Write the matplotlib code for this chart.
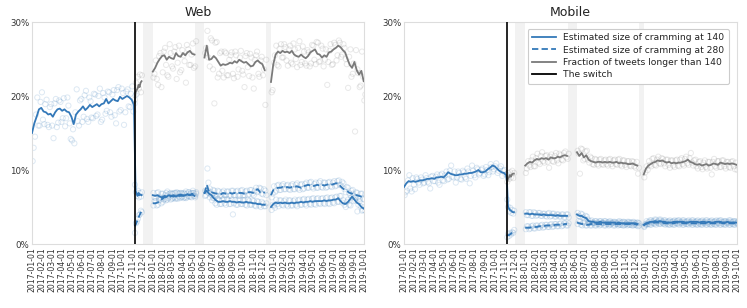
import numpy as np
import pandas as pd
import matplotlib
matplotlib.use("Agg")
import matplotlib.pyplot as plt
from matplotlib.lines import Line2D
from matplotlib.ticker import FuncFormatter

# ---------------- data (percent) ----------------
pre_start = "2017-01-01"   # weekly
p1_start = "2017-11-07"    # every 3 days
p2_start = "2018-01-01"    # weekly
p3_start = "2018-06-06"    # weekly
p4_start = "2018-12-24"    # weekly
switch_date = "2017-11-07"
gaps = [("2017-12-01", "2018-01-01"), ("2018-05-09", "2018-06-06"), ("2018-12-09", "2018-12-24")]
month_ticks = pd.date_range("2017-01-01", "2019-10-01", freq="MS")

# ---- Web: smoothed lines ----
web_pre_140 = [15.0, 16.3, 17.2, 18.2, 18.4, 17.9, 17.8, 17.5, 17.6, 17.2, 17.8, 18.2, 18.3, 18.0, 18.2,
               17.9, 17.8, 17.2, 16.2, 17.5, 17.9, 18.2, 18.6, 18.1, 18.4, 18.8, 18.5, 18.7, 18.9, 18.6,
               18.9, 19.0, 19.6, 19.0, 19.3, 19.6, 19.4, 19.3, 19.9, 19.6, 19.8, 20.0, 19.8, 19.5, 18.8]
web_p1_140 = [14.0, 7.2, 6.8, 6.5, 6.9, 6.6, 6.7, 6.6]
web_p1_280 = [2.4, 2.6, 2.9, 3.3, 3.6, 3.9, 4.2, 4.4]
web_p1_gray = [19.0, 20.5, 20.8, 21.0, 21.5, 21.2, 21.8, 22.0]
web_p2_140 = [6.6, 6.5, 6.6, 6.4, 6.3, 6.5, 6.4, 6.6, 6.5, 6.6, 6.4, 6.6, 6.7, 6.5, 6.6, 6.7, 6.6, 6.7, 6.5]
web_p2_280 = [5.5, 5.5, 5.6, 5.8, 6.1, 6.3, 6.4, 6.3, 6.5, 6.4, 6.6, 6.5, 6.5, 6.6, 6.5, 6.7, 6.6, 6.8, 6.6]
web_p2_gray = [23.3, 23.8, 24.5, 25.0, 25.4, 25.5, 24.9, 25.3, 25.1, 25.0, 25.8, 25.4, 25.3, 25.8, 25.5,
               25.9, 26.1, 25.7, 25.6]
web_p3_140 = [6.9, 7.2, 6.8, 6.6, 6.2, 5.9, 5.7, 5.7, 5.8, 5.7, 5.7, 5.8, 5.7, 5.7, 5.6, 5.7, 5.6, 5.6,
              5.7, 5.6, 5.6, 5.5, 5.5, 5.4, 5.4, 5.3, 5.3]
web_p3_280 = [6.8, 8.0, 7.0, 7.0, 6.9, 6.8, 6.8, 6.7, 6.9, 6.8, 6.8, 6.9, 6.8, 6.9, 6.8, 6.9, 6.9, 6.8,
              6.9, 7.0, 7.0, 6.9, 7.3, 7.4, 7.0, 7.1, 6.9]
web_p3_gray = [25.2, 26.8, 24.9, 25.0, 25.4, 25.1, 24.6, 24.1, 24.3, 24.2, 24.3, 24.5, 24.4, 24.7, 24.5,
               24.9, 24.7, 24.5, 24.6, 24.3, 24.0, 24.1, 24.6, 24.8, 24.5, 24.3, 23.5]
web_p4_140 = [5.0, 5.4, 5.6, 5.5, 5.6, 5.5, 5.6, 5.5, 5.5, 5.6, 5.5, 5.6, 5.6, 5.7, 5.6, 5.7, 5.7, 5.8,
              5.7, 5.8, 5.8, 5.8, 5.8, 5.9, 5.8, 5.9, 5.9, 6.0, 6.0, 6.2, 5.8, 5.5, 5.4, 5.6, 6.0, 6.4,
              6.0, 5.6, 5.4, 5.0, 4.8]
web_p4_280 = [6.6, 7.3, 7.5, 7.6, 7.6, 7.7, 7.6, 7.7, 7.6, 7.7, 7.7, 7.8, 7.7, 7.6, 7.8, 7.9, 8.0, 7.9,
              7.8, 7.9, 8.0, 7.9, 8.0, 7.9, 8.0, 8.1, 8.0, 8.1, 8.2, 8.2, 7.8, 7.5, 7.3, 7.1, 6.9, 6.8,
              6.6, 6.6, 6.5, 6.4, 6.4]
web_p4_gray = [21.9, 24.3, 25.6, 26.0, 25.8, 26.1, 25.9, 26.0, 25.8, 26.1, 25.6, 25.4, 25.3, 25.6, 25.3,
               25.1, 25.4, 25.9, 26.1, 26.3, 25.7, 25.6, 25.2, 25.5, 25.3, 25.9, 26.0, 26.3, 26.5, 26.8,
               26.6, 26.2, 25.9, 25.0, 24.2, 23.8, 24.6, 23.5, 22.9, 23.4, 22.0]

# ---- Web: daily observations (two samples per week) ----
web_pre_140_a = [11.2, 14.5, 19.8, 16.0, 20.5, 16.2, 19.5, 15.8, 18.9, 14.3, 19.6, 16.4, 19.2, 17.0, 15.9,
                 19.8, 16.3, 14.0, 13.6, 20.9, 16.0, 19.6, 17.2, 20.7, 16.5, 19.3, 17.0, 20.2, 17.5, 21.0,
                 16.8, 19.8, 18.0, 20.5, 17.2, 20.8, 16.3, 21.2, 18.1, 20.4, 17.8, 20.9, 18.5, 21.3, 19.0]
web_pre_140_b = [13.0, 17.5, 16.0, 19.2, 16.8, 18.9, 16.1, 18.5, 16.0, 19.0, 15.8, 19.4, 16.5, 19.7, 17.0,
                 18.7, 14.2, 15.5, 17.8, 16.6, 19.4, 16.5, 20.1, 16.9, 19.8, 17.1, 20.3, 17.3, 20.0, 16.5,
                 20.4, 17.6, 20.6, 17.8, 20.2, 17.4, 20.8, 17.9, 21.0, 16.1, 20.6, 18.6, 20.3, 17.9, 20.1]
web_p1_140_pts = [8.0, 7.0, 6.5, 7.2, 6.3, 6.9, 6.4, 7.0]
web_p1_280_pts = [1.5, 2.8, 3.0, 3.4, 3.9, 4.0, 4.5, 4.3]
web_p1_gray_pts = [19.5, 21.8, 20.3, 22.6, 21.0, 22.9, 20.5, 22.8]
web_p2_140_a = [6.9, 6.2, 7.0, 6.3, 6.8, 6.1, 7.1, 6.4, 6.8, 6.3, 7.0, 6.4, 6.9, 6.2, 7.1, 6.5, 6.8, 7.2, 6.3]
web_p2_140_b = [6.3, 6.9, 6.2, 6.8, 6.0, 6.9, 6.2, 6.9, 6.2, 6.9, 6.1, 6.9, 6.4, 6.8, 6.3, 7.0, 6.3, 6.9, 6.8]
web_p2_280_a = [5.2, 5.8, 5.3, 6.0, 5.7, 6.6, 6.0, 6.8, 6.1, 6.9, 6.2, 6.8, 6.3, 6.9, 6.2, 7.0, 6.4, 6.9, 6.5]
web_p2_280_b = [5.8, 5.2, 5.9, 5.5, 6.3, 5.9, 6.7, 6.0, 6.8, 6.1, 6.9, 6.2, 6.8, 6.3, 6.8, 6.4, 6.9, 6.5, 7.0]
web_p2_gray_a = [22.5, 24.8, 21.5, 25.8, 23.2, 26.5, 22.8, 27.0, 24.0, 26.0, 22.3, 26.8, 23.5, 25.5, 21.8,
                 26.3, 24.2, 27.1, 24.0]
web_p2_gray_b = [23.0, 22.3, 25.4, 21.2, 26.0, 24.2, 22.6, 25.8, 23.7, 26.6, 24.5, 23.2, 26.2, 24.7, 26.9,
                 24.2, 25.6, 23.8, 27.4]
web_p3_140_a = [7.2, 10.2, 6.3, 5.9, 6.2, 5.3, 6.0, 5.4, 6.1, 5.3, 6.0, 5.4, 4.0, 5.9, 5.3, 6.0, 5.4,
                5.9, 5.2, 5.8, 5.3, 5.8, 5.1, 5.7, 5.0, 5.5, 5.1]
web_p3_140_b = [6.6, 6.9, 7.0, 6.2, 5.5, 6.1, 5.4, 6.0, 5.5, 6.1, 5.4, 6.0, 5.5, 5.3, 6.0, 5.4, 5.9, 5.3,
                6.0, 5.3, 5.9, 5.2, 5.8, 5.2, 5.7, 5.1, 5.5]
web_p3_280_a = [6.5, 7.3, 7.5, 6.6, 7.2, 6.5, 7.1, 6.5, 7.2, 6.6, 7.1, 6.5, 7.2, 6.6, 7.2, 6.5, 7.3,
                6.6, 7.2, 6.7, 7.3, 6.6, 7.6, 7.1, 7.5, 6.7, 7.2]
web_p3_280_b = [7.1, 8.3, 6.7, 7.3, 6.6, 7.2, 6.5, 7.0, 6.6, 7.1, 6.5, 7.2, 6.6, 7.1, 6.5, 7.2, 6.6, 7.1,
                6.6, 7.3, 6.8, 7.2, 7.0, 7.6, 6.8, 7.4, 6.6]
web_p3_gray_a = [25.8, 28.8, 24.0, 27.5, 19.0, 27.3, 23.0, 26.0, 22.5, 25.8, 22.8, 25.5, 23.0, 26.0,
                 22.6, 25.2, 23.4, 21.2, 25.8, 22.7, 25.2, 21.0, 25.5, 23.0, 24.8, 22.8, 18.8]
web_p3_gray_b = [26.5, 25.2, 27.8, 23.6, 27.2, 22.5, 25.8, 23.4, 26.0, 22.8, 24.9, 25.9, 22.4, 25.5, 23.6,
                 26.1, 22.9, 25.4, 23.9, 25.7, 22.5, 24.9, 26.0, 22.6, 25.3, 23.6, 24.9]
web_p4_140_a = [4.6, 5.2, 6.0, 5.1, 5.9, 5.2, 6.0, 5.1, 5.9, 5.2, 6.0, 5.1, 6.0, 5.3, 6.1, 5.2, 6.1,
                5.3, 6.2, 5.3, 6.2, 5.4, 6.2, 5.4, 6.3, 5.4, 6.3, 5.5, 6.4, 5.7, 6.5, 5.9, 5.0, 6.0,
                5.2, 6.8, 5.9, 4.4, 5.8, 4.5, 5.0]
web_p4_140_b = [5.3, 4.9, 5.4, 5.9, 5.3, 5.8, 5.3, 5.9, 5.2, 5.8, 5.3, 5.9, 5.3, 6.0, 5.4, 6.0, 5.4, 6.1,
                5.4, 6.1, 5.5, 6.1, 5.5, 6.2, 5.5, 6.2, 5.6, 6.3, 5.7, 6.5, 5.6, 5.3, 5.7, 5.3, 6.3, 5.8,
                6.2, 5.3, 5.1, 4.6, 4.5]
web_p4_280_a = [6.3, 7.8, 7.2, 8.0, 7.3, 8.1, 7.4, 8.0, 7.3, 8.1, 7.4, 8.2, 7.3, 8.1, 7.5, 8.3, 7.6,
                8.4, 7.5, 8.3, 7.6, 8.5, 7.6, 8.3, 7.7, 8.4, 7.7, 8.5, 7.9, 8.6, 7.9, 8.2, 7.0, 7.6,
                6.6, 7.3, 6.3, 6.9, 6.1, 6.8, 6.0]
web_p4_280_b = [6.8, 7.0, 7.9, 7.3, 7.9, 7.4, 7.9, 7.4, 7.9, 7.4, 8.0, 7.5, 8.0, 7.4, 8.1, 7.6, 8.3, 7.7,
                8.1, 7.6, 8.3, 7.7, 8.3, 7.6, 8.3, 7.8, 8.3, 7.8, 8.5, 8.0, 8.4, 7.4, 7.7, 6.9, 7.2, 6.5,
                7.0, 6.3, 6.8, 6.1, 6.7]
web_p4_gray_a = [20.5, 24.5, 26.8, 24.0, 27.0, 25.2, 26.6, 24.1, 26.8, 24.3, 26.3, 23.9, 27.4, 24.6,
                 26.0, 24.1, 25.9, 24.4, 26.8, 24.3, 27.2, 24.7, 26.4, 24.9, 21.5, 26.1, 24.2, 27.2,
                 24.8, 27.5, 25.3, 27.0, 25.0, 21.1, 26.3, 23.0, 15.2, 23.6, 21.2, 26.0, 19.4]
web_p4_gray_b = [20.8, 25.5, 24.2, 26.4, 25.2, 27.0, 24.8, 26.3, 24.5, 27.1, 25.0, 26.5, 24.2, 26.7, 24.4,
                 26.2, 24.0, 26.9, 24.9, 27.3, 24.6, 26.8, 24.0, 26.3, 24.6, 27.0, 24.3, 26.9, 25.5, 27.2,
                 25.6, 26.5, 24.3, 25.3, 22.6, 24.4, 26.2, 23.1, 21.4, 22.6, 20.2]

# ---- Mobile: smoothed lines ----
mob_pre_140 = [7.7, 8.2, 8.5, 8.4, 8.5, 8.4, 8.5, 8.6, 8.6, 8.7, 8.8, 8.8, 8.9, 8.8, 9.0, 9.0, 9.1, 9.0,
               9.3, 9.7, 9.5, 9.4, 9.3, 9.3, 9.4, 9.4, 9.5, 9.5, 9.6, 9.6, 9.7, 9.8, 10.0, 9.7, 9.7, 9.8,
               10.1, 10.3, 10.6, 10.5, 10.2, 9.9, 9.7, 9.6, 9.3]
mob_p1_140 = [8.5, 5.2, 4.8, 4.6, 4.5, 4.4, 4.3, 4.3]
mob_p1_280 = [1.1, 1.2, 1.2, 1.3, 1.4, 1.5, 1.6, 1.7]
mob_p1_gray = [8.2, 8.8, 9.0, 9.3, 9.1, 9.4, 9.5, 9.5]
mob_p2_140 = [4.1, 4.1, 4.0, 4.1, 4.0, 4.0, 4.0, 3.9, 4.0, 3.9, 3.9, 3.9, 3.9, 3.8, 3.9, 3.8, 3.8, 3.8, 3.8]
mob_p2_280 = [2.2, 2.2, 2.2, 2.3, 2.3, 2.3, 2.4, 2.4, 2.4, 2.5, 2.5, 2.5, 2.5, 2.6, 2.6, 2.6, 2.6, 2.7, 2.7]
mob_p2_gray = [10.6, 10.9, 11.1, 11.0, 11.3, 11.5, 11.4, 11.6, 11.5, 11.6, 11.4, 11.7, 11.6, 11.6, 11.8,
               11.7, 11.9, 12.0, 11.9]
mob_p3_140 = [4.0, 3.8, 3.8, 3.6, 3.5, 3.1, 3.0, 3.0, 2.9, 2.9, 3.0, 2.9, 2.9, 2.9, 2.9, 2.9, 2.9, 2.8,
              2.9, 2.8, 2.8, 2.8, 2.8, 2.8, 2.8, 2.8, 2.7]
mob_p3_280 = [2.9, 2.8, 2.7, 2.7, 2.6, 2.6, 2.7, 2.7, 2.7, 2.7, 2.7, 2.7, 2.7, 2.7, 2.7, 2.7, 2.7, 2.7,
              2.7, 2.7, 2.7, 2.7, 2.7, 2.7, 2.7, 2.7, 2.6]
mob_p3_gray = [12.4, 11.9, 12.3, 11.7, 12.0, 11.4, 11.2, 11.1, 11.0, 11.1, 11.1, 11.0, 11.1, 11.0, 11.1,
               11.0, 11.0, 11.1, 10.9, 11.0, 10.9, 10.9, 10.8, 10.8, 10.9, 10.7, 10.6]
mob_p4_140 = [2.6, 2.8, 2.9, 3.0, 3.0, 3.1, 3.0, 3.1, 3.0, 3.0, 2.9, 2.9, 2.9, 3.0, 3.0, 3.0, 3.0, 3.0,
              2.9, 2.9, 3.0, 3.0, 3.0, 3.0, 2.9, 3.0, 3.0, 2.9, 3.0, 2.9, 2.9, 3.0, 3.0, 3.0, 2.9, 2.9,
              3.0, 2.9, 2.9, 2.9, 2.9]
mob_p4_280 = [2.5, 2.7, 2.8, 2.8, 2.9, 2.9, 2.9, 2.9, 2.9, 2.8, 2.8, 2.8, 2.8, 2.8, 2.9, 2.9, 2.9, 2.8,
              2.8, 2.8, 2.8, 2.8, 2.8, 2.8, 2.8, 2.8, 2.8, 2.8, 2.8, 2.8, 2.8, 2.8, 2.9, 2.9, 2.8, 2.8,
              2.8, 2.8, 2.8, 2.8, 2.8]
mob_p4_gray = [9.4, 10.2, 10.6, 10.8, 11.0, 11.1, 11.3, 11.2, 11.3, 11.1, 11.0, 11.1, 10.9, 11.0, 10.9,
               11.0, 11.0, 11.1, 11.2, 11.4, 11.1, 11.0, 10.8, 10.7, 10.8, 10.6, 10.7, 10.8, 10.6, 10.7,
               10.9, 10.8, 10.7, 11.0, 10.9, 10.8, 10.9, 10.8, 10.9, 10.8, 10.7]

# ---- Mobile: daily observations ----
mob_pre_140_a = [6.6, 7.2, 9.3, 7.1, 8.0, 9.0, 8.3, 9.0, 8.2, 9.3, 8.4, 7.5, 9.2, 8.5, 9.4, 8.0, 9.5,
                 8.5, 9.8, 8.8, 10.6, 9.0, 8.3, 9.8, 8.8, 9.9, 9.0, 10.2, 8.2, 10.6, 9.3, 10.3, 9.4,
                 10.0, 9.2, 10.4, 9.3, 10.8, 9.8, 10.5, 9.6, 10.2, 9.2, 10.0, 9.4]
mob_pre_140_b = [7.0, 8.6, 7.5, 8.9, 7.4, 8.8, 8.0, 8.7, 8.3, 8.9, 8.2, 9.1, 8.5, 9.1, 8.3, 9.3, 8.6, 9.3,
                 8.7, 9.9, 9.1, 9.8, 9.0, 9.6, 8.7, 9.7, 8.8, 9.8, 9.2, 9.9, 9.0, 10.1, 9.6, 10.2, 9.4,
                 10.0, 9.7, 10.4, 10.1, 10.9, 9.9, 10.5, 9.9, 9.4, 9.0]
mob_p1_140_pts = [6.0, 5.0, 4.4, 4.9, 4.2, 4.6, 4.1, 4.5]
mob_p1_280_pts = [0.9, 1.4, 1.1, 1.5, 1.3, 1.6, 1.5, 1.9]
mob_p1_gray_pts = [8.4, 9.6, 8.8, 9.7, 9.0, 9.9, 8.9, 9.6]
mob_p2_140_a = [4.3, 3.9, 4.3, 3.8, 4.2, 3.9, 4.2, 3.8, 4.1, 3.7, 4.2, 3.8, 4.1, 3.7, 4.0, 3.7, 4.0, 3.6, 4.0]
mob_p2_140_b = [3.9, 4.3, 3.8, 4.3, 3.8, 4.2, 3.8, 4.1, 3.8, 4.1, 3.7, 4.1, 3.7, 4.0, 3.7, 4.0, 3.6, 4.0, 3.6]
mob_p2_280_a = [2.0, 2.4, 2.1, 2.5, 2.1, 2.5, 2.2, 2.6, 2.3, 2.6, 2.3, 2.7, 2.4, 2.7, 2.4, 2.8, 2.5, 2.8, 2.5]
mob_p2_280_b = [2.4, 2.0, 2.4, 2.1, 2.5, 2.2, 2.5, 2.2, 2.6, 2.3, 2.6, 2.3, 2.7, 2.4, 2.7, 2.4, 2.8, 2.5, 2.8]
mob_p2_gray_a = [9.6, 11.2, 10.4, 11.8, 10.5, 12.2, 10.8, 12.4, 11.0, 12.0, 10.3, 12.1, 11.1, 12.3, 10.9,
                 12.0, 11.3, 12.5, 11.5]
mob_p2_gray_b = [10.2, 10.6, 11.3, 10.5, 11.6, 11.0, 11.9, 11.2, 11.9, 11.1, 11.8, 11.2, 11.9, 11.3, 12.2,
                 11.4, 12.3, 11.7, 12.2]
mob_p3_140_a = [4.2, 3.7, 4.0, 3.4, 3.7, 2.9, 3.2, 2.8, 3.1, 2.7, 3.1, 2.8, 3.1, 2.7, 3.1, 2.8, 3.0,
                2.7, 3.1, 2.6, 3.0, 2.7, 3.0, 2.6, 3.0, 2.6, 2.9]
mob_p3_140_b = [3.8, 4.1, 3.6, 3.8, 3.3, 3.1, 2.8, 3.1, 2.7, 3.1, 2.8, 3.1, 2.7, 3.0, 2.7, 3.0, 2.7, 3.0,
                2.6, 3.0, 2.6, 3.0, 2.6, 2.9, 2.6, 2.9, 2.5]
mob_p3_280_a = [2.7, 3.0, 2.5, 2.9, 2.5, 2.8, 2.5, 2.9, 2.5, 2.9, 2.6, 2.9, 2.5, 2.9, 2.6, 2.9, 2.5,
                2.8, 2.6, 2.9, 2.5, 2.8, 2.6, 2.9, 2.5, 2.8, 2.4]
mob_p3_280_b = [3.1, 2.6, 2.9, 2.5, 2.8, 2.5, 2.9, 2.5, 2.9, 2.5, 2.9, 2.5, 2.9, 2.5, 2.9, 2.5, 2.9, 2.5,
                2.9, 2.5, 2.9, 2.5, 2.9, 2.5, 2.9, 2.5, 2.8]
mob_p3_gray_a = [12.6, 9.5, 12.8, 11.5, 12.6, 11.0, 11.6, 10.7, 11.4, 10.6, 11.5, 10.7, 11.4, 10.6, 11.5,
                 10.5, 11.4, 10.7, 11.5, 10.5, 11.3, 10.4, 11.2, 10.5, 11.1, 10.3, 9.5]
mob_p3_gray_b = [12.2, 12.9, 11.3, 12.5, 11.4, 11.8, 10.8, 11.5, 10.8, 11.4, 10.8, 11.3, 10.8, 11.4, 10.8,
                 11.3, 10.8, 11.4, 10.7, 11.3, 10.7, 11.2, 10.6, 11.2, 10.5, 11.1, 10.3]
mob_p4_140_a = [2.4, 3.1, 2.7, 3.2, 2.8, 3.3, 2.8, 3.3, 2.8, 3.2, 2.7, 3.2, 2.7, 3.2, 2.8, 3.2, 2.8,
                3.2, 2.7, 3.2, 2.8, 3.2, 2.7, 3.2, 2.7, 3.2, 2.8, 3.2, 2.7, 3.2, 2.7, 3.2, 2.8, 3.2,
                2.7, 3.1, 2.8, 3.2, 2.7, 3.1, 2.8]
mob_p4_140_b = [2.7, 2.7, 3.2, 2.8, 3.3, 2.9, 3.3, 2.9, 3.2, 2.8, 3.1, 2.8, 3.1, 2.8, 3.2, 2.8, 3.2, 2.8,
                3.1, 2.8, 3.2, 2.8, 3.1, 2.8, 3.1, 2.8, 3.2, 2.8, 3.1, 2.8, 3.1, 2.8, 3.2, 2.8, 3.1, 2.8,
                3.2, 2.8, 3.1, 2.8, 3.1]
mob_p4_280_a = [2.3, 2.6, 3.0, 2.6, 3.1, 2.6, 3.1, 2.7, 3.0, 2.6, 3.0, 2.6, 3.0, 2.6, 3.1, 2.6, 3.0,
                2.6, 3.0, 2.6, 3.0, 2.6, 3.0, 2.6, 3.0, 2.6, 3.0, 2.6, 3.0, 2.6, 3.0, 2.6, 3.1, 2.6,
                3.0, 2.6, 3.0, 2.6, 3.0, 2.6, 2.9]
mob_p4_280_b = [2.6, 2.9, 2.6, 3.0, 2.7, 3.0, 2.7, 3.1, 2.7, 3.0, 2.6, 3.0, 2.6, 3.0, 2.7, 3.0, 2.6, 3.0,
                2.7, 3.0, 2.6, 3.0, 2.6, 3.0, 2.6, 3.0, 2.6, 3.0, 2.6, 3.0, 2.6, 3.0, 2.6, 3.0, 2.6, 3.0,
                2.6, 3.0, 2.6, 3.0, 2.6]
mob_p4_gray_a = [9.0, 10.5, 11.2, 10.5, 11.6, 10.6, 11.8, 10.8, 11.5, 10.5, 11.4, 10.3, 11.3, 10.4, 11.4,
                 10.5, 11.6, 10.6, 11.8, 10.7, 12.3, 10.6, 11.4, 10.2, 11.2, 10.1, 11.3, 10.2, 11.1, 9.4,
                 11.5, 10.3, 11.2, 10.4, 11.3, 10.2, 11.1, 10.3, 11.2, 10.1, 10.0]
mob_p4_gray_b = [9.7, 10.0, 10.7, 11.5, 10.7, 11.4, 10.9, 11.6, 10.9, 11.4, 10.7, 11.3, 10.6, 11.3, 10.6,
                 11.4, 10.8, 11.5, 10.9, 11.6, 11.0, 11.3, 10.5, 11.1, 10.4, 11.0, 10.4, 11.1, 10.3, 11.1,
                 10.5, 11.2, 10.4, 11.3, 10.5, 11.1, 10.4, 11.1, 10.5, 11.0, 10.4]

# ---------------- helpers ----------------
BLUE = "#3479b9"
GRAY = "#7a7a7a"
DASH = (0, (3.5, 1.8))


def seg(start, vals, freq="7D", offset_days=0):
    idx = pd.date_range(pd.Timestamp(start) + pd.Timedelta(days=offset_days), periods=len(vals), freq=freq)
    return pd.Series(np.asarray(vals, dtype=float) / 100.0, index=idx)


def join(parts):
    out = []
    for i, p in enumerate(parts):
        if i > 0:
            out.append(pd.Series([np.nan], index=[p.index[0] - pd.Timedelta(days=1)]))
        out.append(p)
    return pd.concat(out)


def draw(ax, title, pre, p1, p2, p3, p4, pts):
    for a, b in gaps:
        ax.axvspan(pd.Timestamp(a), pd.Timestamp(b), color="#f2f2f2", lw=0, zorder=0)
    # observations
    for start, freq, off, vals, col in pts:
        s = seg(start, vals, freq=freq, offset_days=off)
        ax.scatter(s.index, s.values, s=14, facecolors="none", edgecolors=col, linewidths=0.7,
                   alpha=0.17, zorder=1)
    l140 = join([pd.concat([seg(pre_start, pre), seg(p1_start, p1[0], freq="3D")]),
                 seg(p2_start, p2[0]), seg(p3_start, p3[0]), seg(p4_start, p4[0])])
    l280 = join([seg(p1_start, p1[1], freq="3D"), seg(p2_start, p2[1]), seg(p3_start, p3[1]),
                 seg(p4_start, p4[1])])
    lg = join([seg(p1_start, p1[2], freq="3D"), seg(p2_start, p2[2]), seg(p3_start, p3[2]),
               seg(p4_start, p4[2])])
    ax.plot(l140.index, l140.values, color=BLUE, lw=1.3, zorder=3)
    ax.plot(l280.index, l280.values, color=BLUE, lw=1.3, ls=DASH, zorder=3)
    ax.plot(lg.index, lg.values, color=GRAY, lw=1.3, zorder=3)
    ax.axvline(pd.Timestamp(switch_date), color="black", lw=1.2, zorder=4)

    ax.set_title(title, fontsize=9, color="#222222", pad=4)
    ax.set_ylim(0, 0.30)
    ax.set_yticks([0, 0.1, 0.2, 0.3])
    ax.yaxis.set_major_formatter(FuncFormatter(lambda v, p: f"{v * 100:.0f}%"))
    ax.set_xlim(pd.Timestamp("2017-01-01"), pd.Timestamp("2019-10-01"))
    ax.set_xticks(month_ticks)
    ax.set_xticklabels([d.strftime("%Y-%m-%d") for d in month_ticks], rotation=90, fontsize=5.6,
                       color="#333333")
    ax.tick_params(axis="y", labelsize=6.2, labelcolor="#333333", length=0, pad=2)
    ax.tick_params(axis="x", length=0, pad=2)
    for sp in ax.spines.values():
        sp.set_color("#dddddd")
        sp.set_linewidth(0.8)


def point_sets(pre_a, pre_b, p1pts, p2s, p3s, p4s):
    sets = [(pre_start, "7D", 2, pre_a, BLUE), (pre_start, "7D", 5, pre_b, BLUE)]
    for vals, col in zip(p1pts, [BLUE, BLUE, GRAY]):
        sets.append((p1_start, "3D", 1, vals, col))
    for start, grp in [(p2_start, p2s), (p3_start, p3s), (p4_start, p4s)]:
        for (a, b), col in zip(grp, [BLUE, BLUE, GRAY]):
            sets.append((start, "7D", 2, a, col))
            sets.append((start, "7D", 5, b, col))
    return sets


fig = plt.figure(figsize=(7.47, 3.08), dpi=100)
ax1 = fig.add_axes([32 / 747, 64 / 308, 332 / 747, 222 / 308])
ax2 = fig.add_axes([404 / 747, 64 / 308, 333 / 747, 222 / 308])

web_pts = point_sets(web_pre_140_a, web_pre_140_b,
                     (web_p1_140_pts, web_p1_280_pts, web_p1_gray_pts),
                     [(web_p2_140_a, web_p2_140_b), (web_p2_280_a, web_p2_280_b), (web_p2_gray_a, web_p2_gray_b)],
                     [(web_p3_140_a, web_p3_140_b), (web_p3_280_a, web_p3_280_b), (web_p3_gray_a, web_p3_gray_b)],
                     [(web_p4_140_a, web_p4_140_b), (web_p4_280_a, web_p4_280_b), (web_p4_gray_a, web_p4_gray_b)])
mob_pts = point_sets(mob_pre_140_a, mob_pre_140_b,
                     (mob_p1_140_pts, mob_p1_280_pts, mob_p1_gray_pts),
                     [(mob_p2_140_a, mob_p2_140_b), (mob_p2_280_a, mob_p2_280_b), (mob_p2_gray_a, mob_p2_gray_b)],
                     [(mob_p3_140_a, mob_p3_140_b), (mob_p3_280_a, mob_p3_280_b), (mob_p3_gray_a, mob_p3_gray_b)],
                     [(mob_p4_140_a, mob_p4_140_b), (mob_p4_280_a, mob_p4_280_b), (mob_p4_gray_a, mob_p4_gray_b)])

draw(ax1, "Web", web_pre_140,
     (web_p1_140, web_p1_280, web_p1_gray), (web_p2_140, web_p2_280, web_p2_gray),
     (web_p3_140, web_p3_280, web_p3_gray), (web_p4_140, web_p4_280, web_p4_gray), web_pts)
draw(ax2, "Mobile", mob_pre_140,
     (mob_p1_140, mob_p1_280, mob_p1_gray), (mob_p2_140, mob_p2_280, mob_p2_gray),
     (mob_p3_140, mob_p3_280, mob_p3_gray), (mob_p4_140, mob_p4_280, mob_p4_gray), mob_pts)

handles = [Line2D([], [], color=BLUE, lw=1.3),
           Line2D([], [], color=BLUE, lw=1.3, ls=DASH),
           Line2D([], [], color=GRAY, lw=1.3),
           Line2D([], [], color="black", lw=1.3)]
labels = ["Estimated size of cramming at 140", "Estimated size of cramming at 280",
          "Fraction of tweets longer than 140", "The switch"]
leg = ax2.legend(handles, labels, loc="upper right", fontsize=6.6, frameon=True, framealpha=1,
                 edgecolor="#cccccc", handlelength=2.6, borderpad=0.5, labelspacing=0.35,
                 bbox_to_anchor=(0.99, 0.99))
leg.get_frame().set_linewidth(0.8)
for t in leg.get_texts():
    t.set_color("#222222")

fig.savefig("out.png", dpi=100)
